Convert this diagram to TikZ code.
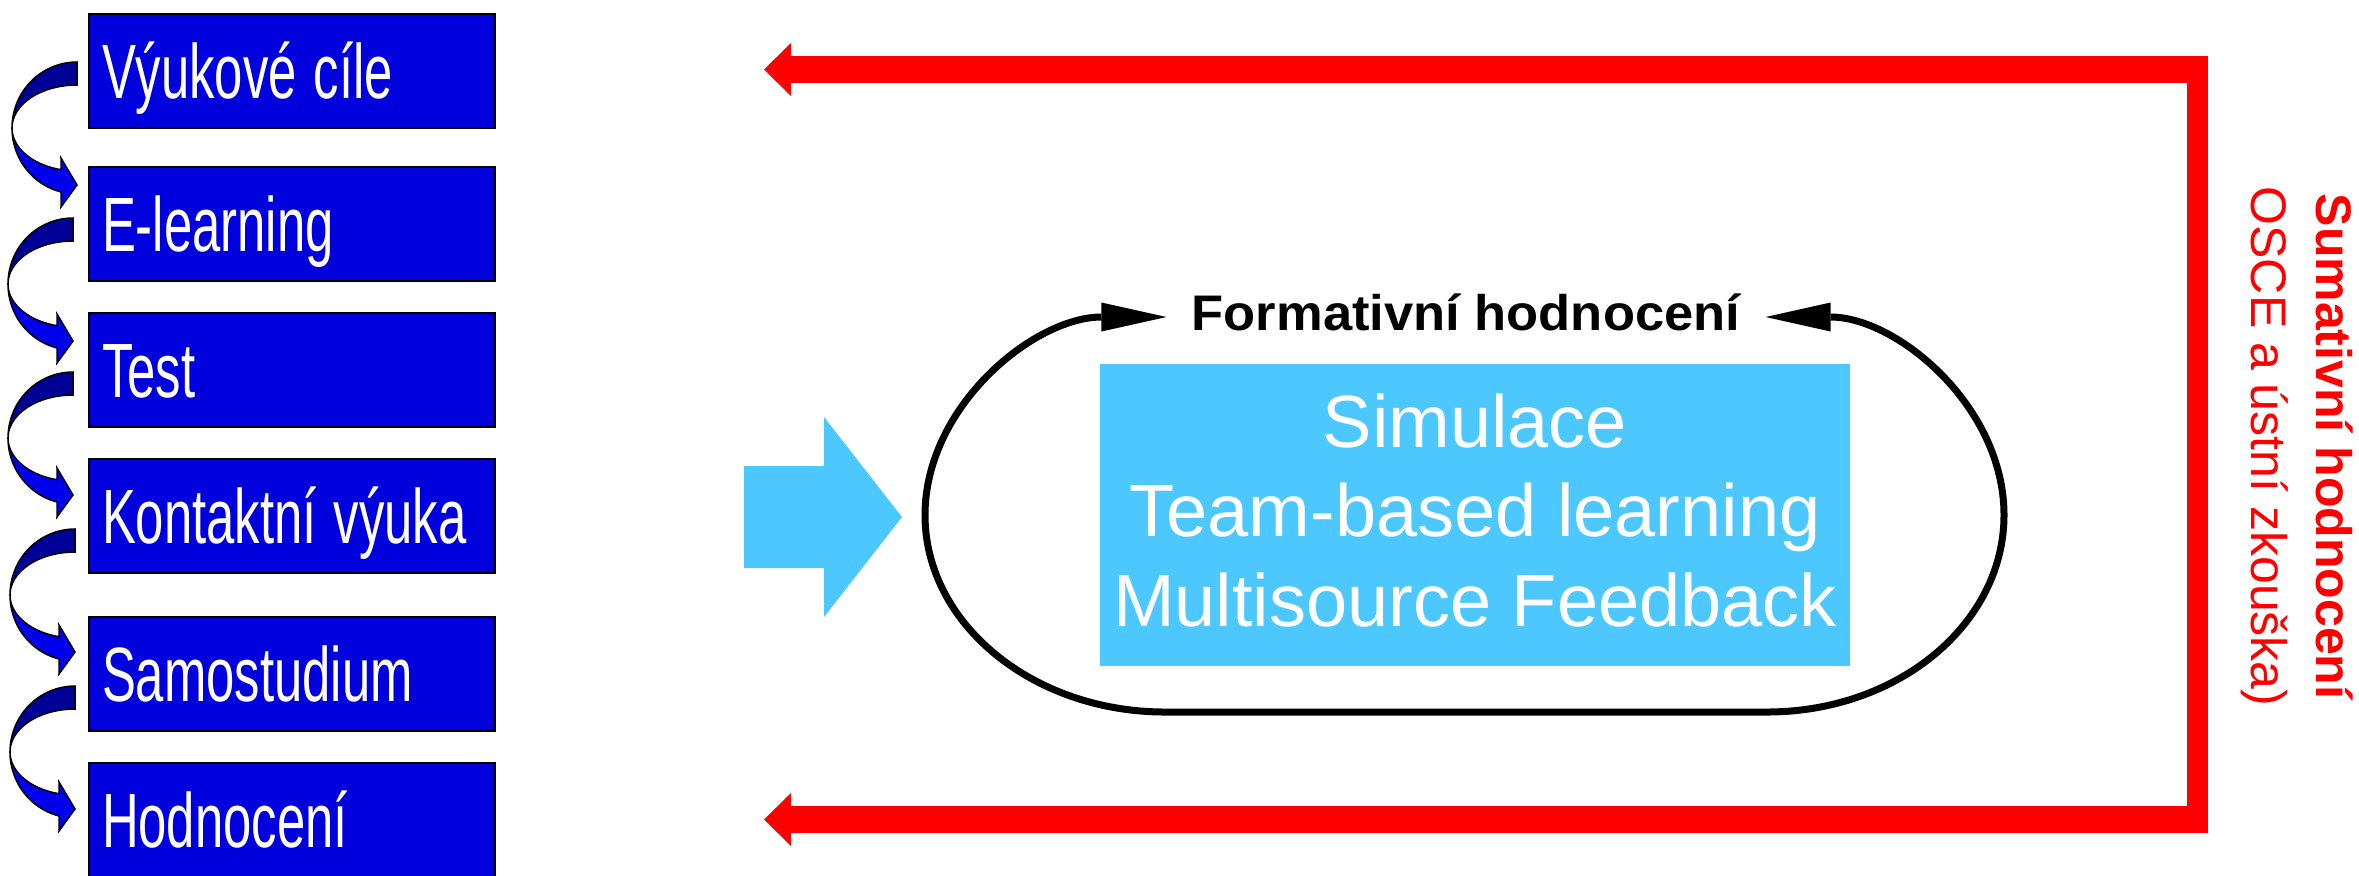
\documentclass[tikz,border=0pt]{standalone}
\usepackage{fontspec}
\usepackage{graphicx}
\usetikzlibrary{arrows.meta,calc}

\newfontfamily\stagefont{Liberation Sans}
\newfontfamily\simfont{Liberation Sans}
\newfontfamily\formfont[FakeStretch=1.05]{Liberation Sans}
\newfontfamily\sumfont{Liberation Sans}
\newcommand\squeeze[1]{\scalebox{0.66}[1]{#1}}

\definecolor{stageblue}{RGB}{0,0,221}
\definecolor{turnblue}{RGB}{0,0,235}
\definecolor{turndark}{RGB}{0,0,150}
\definecolor{sky}{RGB}{77,200,255}

\begin{document}
\begin{tikzpicture}[x=0.5pt,y=-0.5pt,
  stage/.style={draw=black,line width=1pt,fill=stageblue,text=white,
    font=\stagefont\fontsize{38.5pt}{40pt}\selectfont,
    minimum width=203pt,minimum height=57pt,text width=190pt,align=left,
    inner xsep=6.5pt,inner ysep=0pt,text height=27.5pt,text depth=0pt},
  turn back/.style={draw=black,line width=0.75pt,fill=turndark},
  turn front/.style={draw=black,line width=0.75pt,fill=turnblue},
  turn/.pic={
    \filldraw[turn back] plot[domain=90:180,samples=24] ({65*cos(\x)},{66-66*sin(\x)})
      -- plot[domain=180:90,samples=24] ({65*cos(\x)},{66-43*sin(\x)}) -- cycle;
    \filldraw[turn front] plot[domain=180:104.2,samples=24] ({65*cos(\x)},{66+66*sin(\x)})
      -- (-16,145) -- (0,123) -- (-16,96)
      -- plot[domain=104.2:180,samples=24] ({65*cos(\x)},{66+43*sin(\x)}) -- cycle;
  },
  simbox/.style={fill=sky,text=white,minimum width=375pt,minimum height=151pt,
    inner sep=0pt,align=center,font=\simfont\fontsize{37pt}{44.75pt}\selectfont},
  formlabel/.style={font=\formfont\bfseries\fontsize{25pt}{28pt}\selectfont,
    inner xsep=12.5pt,inner ysep=0pt,text height=17.5pt,text depth=4.5pt},
  loop line/.style={draw=black,line width=3.5pt,
    {Triangle[length=32.5pt,width=14.5pt,line width=0pt]}-{Triangle[length=32.5pt,width=14.5pt,line width=0pt]}},
  sum arrow/.style={draw=red,line width=13.5pt,
    -{Triangle[length=13.5pt,width=26.5pt,line width=0pt]}},
  sum text/.style={text=red,rotate=-90,anchor=base,inner sep=0pt,
    font=\sumfont\fontsize{25pt}{28pt}\selectfont}]

  \useasboundingbox (0,0) rectangle (2359,875);

  % course steps
  \node[stage] (vyuka) at (292,71) {\squeeze{Výukové cíle}};
  \node[stage] (elearn) at (292,223.5) {\squeeze{E-learning}};
  \node[stage] (test) at (292,370) {\squeeze{Test}};
  \node[stage] (kontakt) at (292,516) {\squeeze{Kontaktní výuka}};
  \node[stage] (samo) at (292,674) {\squeeze{Samostudium}};
  \node[stage] (hodn) at (292,820) {\squeeze{Hodnocení}};

  \pic at ($(vyuka.west)+(-11,-9)$) {turn};
  \pic at ($(elearn.west)+(-15,-5.5)$) {turn};
  \pic at ($(test.west)+(-15,2)$) {turn};
  \pic at ($(kontakt.west)+(-13,13)$) {turn};
  \pic at ($(samo.west)+(-13,12)$) {turn};

  % big arrow into the loop
  \fill[sky] ($(kontakt.east)+(248,-50)$) -- ++(80,0) -- ++(0,-49) -- ++(78,100)
    -- ++(-78,100) -- ++(0,-49) -- ++(-80,0) -- cycle;

  % formative loop
  \node[simbox] (sim) at (1475,515)
    {Simulace\\Team-based learning\\Multisource Feedback\rule[-5pt]{0pt}{5pt}};
  \node[formlabel] (form) at (1466,317) {Formativní hodnocení};

  \coordinate (rgt) at (2004,515);
  \coordinate (lft) at (925,515);
  \coordinate (br) at (1767,712);
  \coordinate (bl) at (1165,712);
  \draw[loop line] (form.east) .. controls +(131,0) and +(0,-109) .. (rgt)
    .. controls +(0,109) and +(131,0) .. (br) -- (bl)
    .. controls +(-132,0) and +(0,109) .. (lft)
    .. controls +(0,-109) and +(-132,0) .. (form.west);

  % summative feedback
  \coordinate (sum top) at (2208,69.5);
  \coordinate (sum bot) at (2208,819.5);
  \coordinate (aim top) at (764,69.5);
  \coordinate (aim bot) at (764,819.5);
  \draw[red,line width=10.5pt] (2197.5,56) -- (2197.5,833);
  \path (sum top) edge[sum arrow] (aim top)
        (sum bot) edge[sum arrow] (aim bot);

  \node[sum text] (sumhead) at (2316,446.5) {\bfseries Sumativní hodnocení};
  \node[sum text] (sumsub) at (2251,446.5) {OSCE a ústní zkouška)};

\end{tikzpicture}
\end{document}
